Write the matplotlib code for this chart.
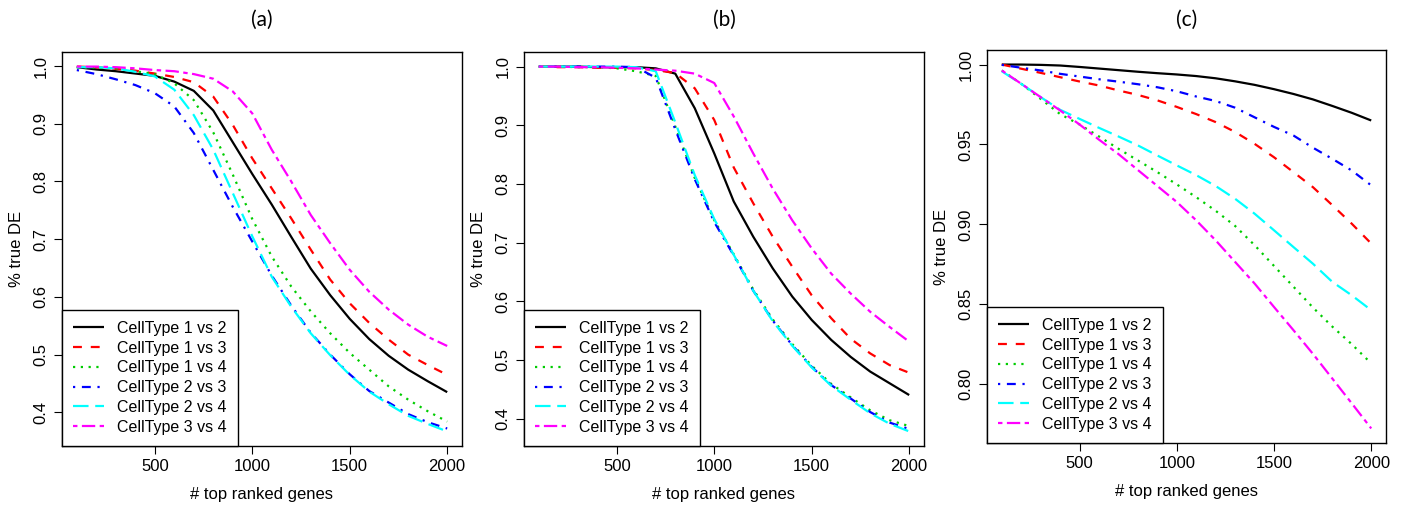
import matplotlib
matplotlib.use("Agg")
import matplotlib.pyplot as plt

plt.rcParams["font.family"] = ["Liberation Sans", "DejaVu Sans"]

# x: number of top ranked genes
genes = [100, 200, 300, 400, 500, 600, 700, 800, 900, 1000,
         1100, 1200, 1300, 1400, 1500, 1600, 1700, 1800, 1900, 2000]

labels = ["CellType 1 vs 2", "CellType 1 vs 3", "CellType 1 vs 4",
          "CellType 2 vs 3", "CellType 2 vs 4", "CellType 3 vs 4"]

# panel (a)
a_12 = [0.998, 0.994, 0.991, 0.987, 0.983, 0.973, 0.957, 0.923, 0.868, 0.813,
        0.760, 0.704, 0.649, 0.603, 0.562, 0.527, 0.498, 0.474, 0.454, 0.435]
a_13 = [0.999, 0.998, 0.995, 0.992, 0.987, 0.981, 0.972, 0.947, 0.898, 0.840,
        0.788, 0.736, 0.682, 0.630, 0.589, 0.555, 0.526, 0.500, 0.482, 0.465]
a_14 = [0.998, 0.997, 0.996, 0.991, 0.986, 0.970, 0.941, 0.885, 0.812, 0.735,
        0.670, 0.618, 0.575, 0.537, 0.503, 0.474, 0.445, 0.422, 0.402, 0.384]
a_23 = [0.993, 0.986, 0.977, 0.967, 0.953, 0.930, 0.884, 0.820, 0.756, 0.696,
        0.637, 0.585, 0.538, 0.500, 0.466, 0.437, 0.417, 0.397, 0.383, 0.372]
a_24 = [0.998, 0.998, 0.996, 0.990, 0.982, 0.959, 0.915, 0.855, 0.780, 0.705,
        0.635, 0.583, 0.537, 0.499, 0.465, 0.436, 0.414, 0.394, 0.380, 0.367]
a_34 = [0.999, 0.999, 0.998, 0.996, 0.993, 0.991, 0.986, 0.978, 0.956, 0.918,
        0.855, 0.800, 0.742, 0.693, 0.647, 0.609, 0.578, 0.552, 0.531, 0.515]

# panel (b)
b_12 = [1.000, 1.000, 1.000, 0.999, 0.999, 0.999, 0.997, 0.988, 0.929, 0.852,
        0.770, 0.710, 0.656, 0.608, 0.568, 0.534, 0.505, 0.480, 0.460, 0.440]
b_13 = [1.000, 0.999, 0.999, 0.998, 0.998, 0.997, 0.994, 0.989, 0.963, 0.909,
        0.828, 0.767, 0.710, 0.659, 0.610, 0.571, 0.536, 0.511, 0.491, 0.478]
b_14 = [1.000, 1.000, 0.999, 0.999, 0.997, 0.992, 0.984, 0.898, 0.810, 0.738,
        0.680, 0.620, 0.569, 0.527, 0.490, 0.459, 0.436, 0.414, 0.397, 0.387]
b_23 = [1.000, 1.000, 1.000, 1.000, 1.000, 0.999, 0.981, 0.893, 0.808, 0.735,
        0.678, 0.618, 0.567, 0.525, 0.488, 0.457, 0.434, 0.411, 0.393, 0.382]
b_24 = [1.000, 1.000, 1.000, 1.000, 1.000, 0.999, 0.992, 0.905, 0.815, 0.740,
        0.679, 0.618, 0.566, 0.524, 0.487, 0.456, 0.432, 0.409, 0.391, 0.378]
b_34 = [1.000, 1.000, 0.999, 0.999, 0.998, 0.997, 0.995, 0.993, 0.988, 0.972,
        0.915, 0.852, 0.792, 0.738, 0.690, 0.647, 0.613, 0.582, 0.556, 0.531]

# panel (c)
c_12 = [1.000, 1.000, 0.9998, 0.9994, 0.9985, 0.9975, 0.9965, 0.9955, 0.9946, 0.9938,
        0.9928, 0.9914, 0.9895, 0.9873, 0.9846, 0.9816, 0.9782, 0.9741, 0.9698, 0.9650]
c_13 = [1.000, 0.9974, 0.9948, 0.9921, 0.9894, 0.9869, 0.9838, 0.9810, 0.9776, 0.9735,
        0.9690, 0.9640, 0.9578, 0.9504, 0.9420, 0.9327, 0.9233, 0.9120, 0.9004, 0.8880]
c_14 = [0.9963, 0.9880, 0.9785, 0.9690, 0.9625, 0.9550, 0.9473, 0.9400, 0.9327, 0.9250,
        0.9170, 0.9085, 0.8990, 0.8870, 0.8740, 0.8610, 0.8480, 0.8360, 0.8250, 0.8130]
c_23 = [0.9998, 0.9980, 0.9963, 0.9942, 0.9925, 0.9908, 0.9893, 0.9877, 0.9858, 0.9833,
        0.9800, 0.9772, 0.9730, 0.9670, 0.9610, 0.9556, 0.9480, 0.9410, 0.9337, 0.9244]
c_24 = [0.9958, 0.9879, 0.9796, 0.9717, 0.9660, 0.9604, 0.9550, 0.9494, 0.9431, 0.9369,
        0.9308, 0.9240, 0.9160, 0.9067, 0.8963, 0.8858, 0.8754, 0.8640, 0.8556, 0.8463]
c_34 = [0.9963, 0.9880, 0.9796, 0.9713, 0.9625, 0.9530, 0.9440, 0.9340, 0.9240, 0.9140,
        0.9025, 0.8900, 0.8765, 0.8630, 0.8483, 0.8338, 0.8190, 0.8035, 0.7880, 0.7723]

panels = [
    ("(a)", [a_12, a_13, a_14, a_23, a_24, a_34]),
    ("(b)", [b_12, b_13, b_14, b_23, b_24, b_34]),
    ("(c)", [c_12, c_13, c_14, c_23, c_24, c_34]),
]

# R default palette + lty 1..6
colors = ["black", "#FF0000", "#00CD00", "#0000FF", "#00FFFF", "#FF00FF"]
dashes = [None, (4, 4), (1, 2.5), (1, 3, 4, 3), (7, 3), (2, 2, 6, 2)]

W, H = 1402, 508
fig = plt.figure(figsize=(W / 100, H / 100), dpi=100)
boxes = [
    (62, 52, 400, 394),
    (524, 52, 400, 394),
    (987, 50, 399, 393),
]

for (title, series), (left, top, w, h) in zip(panels, boxes):
    ax = fig.add_axes([left / W, 1 - (top + h) / H, w / W, h / H])
    for ys, col, ds, lab in zip(series, colors, dashes, labels):
        line, = ax.plot(genes, ys, color=col, lw=1.6, label=lab,
                        solid_capstyle="butt", dash_capstyle="butt")
        if ds is not None:
            line.set_dashes(ds)
    ax.margins(x=0.04, y=0.04)
    ax.set_xticks([500, 1000, 1500, 2000])
    if title == "(c)":
        ticks = [0.80, 0.85, 0.90, 0.95, 1.00]
        ax.set_yticks(ticks)
        ax.set_yticklabels([f"{t:.2f}" for t in ticks], rotation=90, va="center")
    else:
        ticks = [0.4, 0.5, 0.6, 0.7, 0.8, 0.9, 1.0]
        ax.set_yticks(ticks)
        ax.set_yticklabels([f"{t:.1f}" for t in ticks], rotation=90, va="center")
    ax.tick_params(direction="out", length=5.5, width=0.8, labelsize=12, pad=4)
    for s in ax.spines.values():
        s.set_linewidth(1.0)
    ax.set_xlabel("# top ranked genes", fontsize=12, labelpad=9)
    ax.set_ylabel("% true DE", fontsize=12, labelpad=7)
    leg = ax.legend(loc="lower left", borderaxespad=0, fontsize=11.5,
                    handlelength=1.9, handletextpad=0.85, labelspacing=0.3,
                    borderpad=0.7, fancybox=False, framealpha=1)
    leg.get_frame().set_edgecolor("black")
    leg.get_frame().set_linewidth(1.0)
    fig.text((left + w / 2) / W, 1 - 20 / H, title, ha="center", va="center",
             fontsize=15, family=["Lato", "DejaVu Sans"])

fig.savefig("out.png", dpi=100)
